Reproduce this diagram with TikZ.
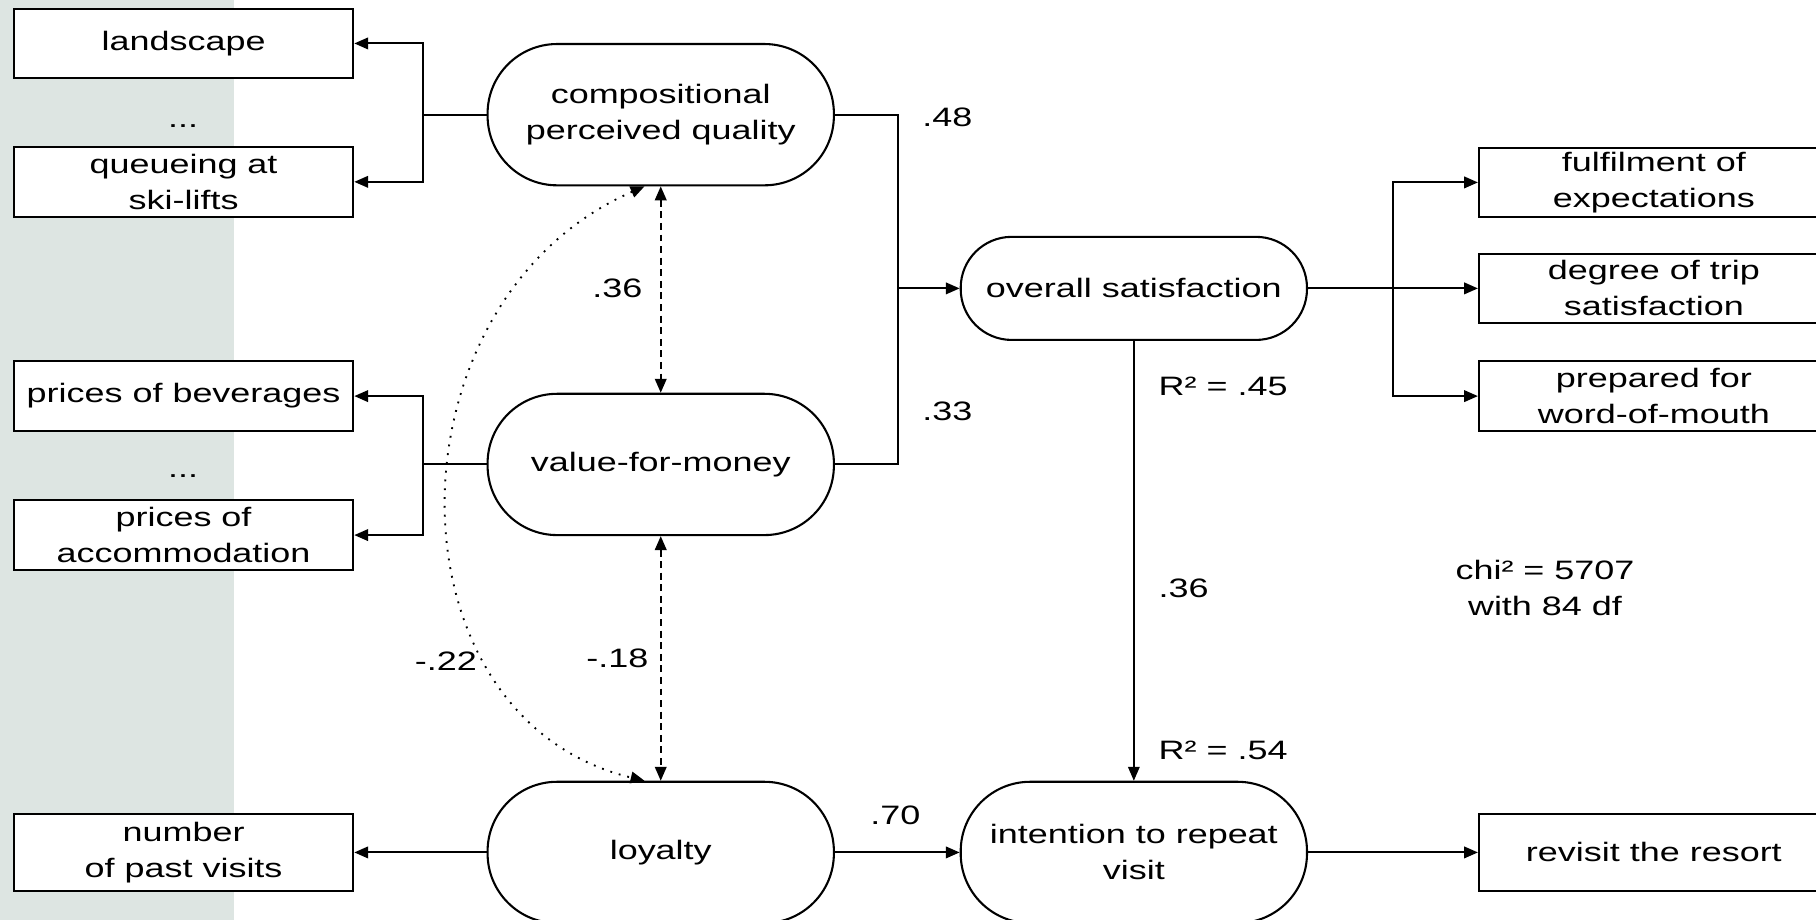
\documentclass[tikz,border=0pt]{standalone}
\usepackage{fontspec}
\setmainfont[FakeStretch=1.35]{Liberation Sans}
\usetikzlibrary{arrows.meta}
\definecolor{bandgray}{RGB}{221,229,226}
\tikzset{
  indic/.style={draw, line width=0.9pt, fill=white, minimum width=146.5pt, minimum height=30pt, align=center, inner sep=0pt},
  latent/.style={draw, line width=0.9pt, fill=white, rounded corners=30pt, minimum width=149.5pt, minimum height=61pt, align=center, inner sep=0pt},
  load/.style={line width=0.9pt, -{Triangle[length=6pt,width=5pt]}},
  corr/.style={line width=0.8pt, dash pattern=on 3pt off 2pt, {Triangle[length=6pt,width=5pt]}-{Triangle[length=6pt,width=5pt]}},
  dotcorr/.style={line width=0.8pt, dash pattern=on 0.8pt off 3pt, {Triangle[length=6pt,width=5pt]}-{Triangle[length=6pt,width=5pt]}},
  coef/.style={inner sep=0pt},
}
\begin{document}
\begin{tikzpicture}[x=0.5pt, y=-0.5pt, font=\fontsize{11.5}{15.5}\selectfont]
\useasboundingbox (0,0) rectangle (1568,794);
\fill[bandgray] (0,0) rectangle (202,794);
% Indicators on the left
\node[indic] (land) at (158.5,37.5) {landscape};
\node (dots1) at (158,109) {...};
\node[indic] (queue) at (158.5,157) {queueing at\\ski-lifts};
\node[indic] (bev) at (158.5,342) {prices of beverages};
\node (dots2) at (158,411) {...};
\node[indic] (acc) at (158.5,462) {prices of\\accommodation};
\node[indic, minimum height=33.5pt] (past) at (158.5,736) {number\\of past visits};
% Latent constructs
\node[latent] (comp) at (570.5,99) {compositional\\perceived quality};
\node[latent] (vfm) at (570.5,401) {value-for-money};
\node[latent] (loy) at (570.5,736) {loyalty};
\node[latent, minimum height=44.5pt, rounded corners=22pt] (sat) at (979,249) {overall satisfaction};
\node[latent] (int) at (979,736) {intention to repeat\\visit};
% Indicators on the right
\node[indic, minimum width=151pt] (fulf) at (1428,157.5) {fulfilment of\\expectations};
\node[indic, minimum width=151pt] (deg) at (1428,249) {degree of trip\\satisfaction};
\node[indic, minimum width=151pt] (prep) at (1428,342) {prepared for\\word-of-mouth};
\node[indic, minimum width=151pt, minimum height=33.5pt] (rev) at (1428,736) {revisit the resort};
% Branch points
\coordinate (lb1) at (365,99);
\coordinate (lb2) at (365,401);
\coordinate (jn) at (775,249);
\coordinate (rb) at (1203,249);
% Loadings
\draw[load] (comp.west) -- (lb1) |- (land);
\draw[load] (lb1) |- (queue);
\draw[load] (vfm.west) -- (lb2) |- (bev);
\draw[load] (lb2) |- (acc);
\draw[load] (loy) -- (past);
\draw[load] (sat.east) -- (rb) |- (fulf);
\draw[load] (rb) -- (deg);
\draw[load] (rb) |- (prep);
\draw[load] (int) -- (rev);
% Paths
\draw[line width=0.9pt] (comp.east) -| (jn);
\draw[line width=0.9pt] (vfm.east) -| (jn);
\draw[load] (jn) -- (sat);
\draw[load, line width=0.6pt] (sat) -- (int);
\draw[load] (loy) -- (int);
% Correlations
\draw[corr] (comp) -- (vfm);
\draw[corr] (vfm) -- (loy);
\draw[dotcorr] ([xshift=-7pt]comp.south) .. controls (330,260) and (330,620) .. ([xshift=-7pt]loy.north);
% Coefficients
\node[coef] (c36a) at (533,249) {.36};
\node[coef] (c18) at (533,568) {-.18};
\node[coef] (c22) at (385,571) {-.22};
\node[coef] (c48) at (818,101) {.48};
\node[coef] (c33) at (818,355) {.33};
\node[coef] (c70) at (773,704) {.70};
\node[coef, anchor=west] (r45) at (1000,334) {R² = .45};
\node[coef, anchor=west] (c36b) at (1000,508) {.36};
\node[coef, anchor=west] (r54) at (1000,648) {R² = .54};
\node[coef, align=center] (chi) at (1334,508) {chi² = 5707\\with 84 df};
\end{tikzpicture}
\end{document}
